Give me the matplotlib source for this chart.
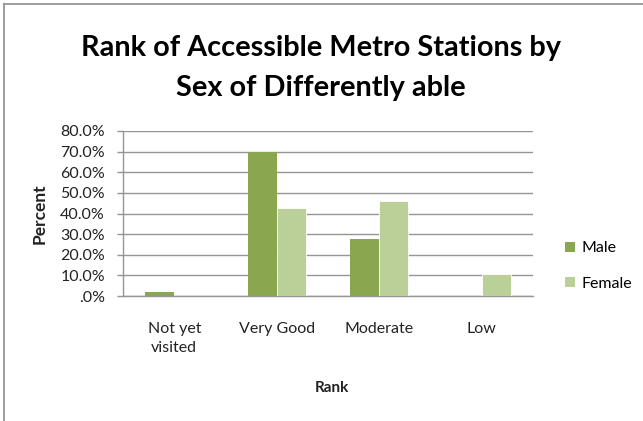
import matplotlib
matplotlib.use("Agg")
import matplotlib.pyplot as plt
from matplotlib.lines import Line2D
from matplotlib.patches import Patch
import numpy as np

categories = ["Not yet\nvisited", "Very Good", "Moderate", "Low"]
male = [2.1, 69.6, 27.8, 0.0]
female = [0.0, 42.8, 46.3, 10.5]
yticks = [0, 10, 20, 30, 40, 50, 60, 70, 80]
ytick_labels = [".0%", "10.0%", "20.0%", "30.0%", "40.0%", "50.0%", "60.0%", "70.0%", "80.0%"]

plt.rcParams['font.family'] = ['Lato', 'DejaVu Sans']

W, H = 643, 421
fig = plt.figure(figsize=(W / 100, H / 100), dpi=100)
ax = fig.add_axes([123 / W, 1 - 296 / H, (533 - 123) / W, (296 - 131) / H])

x = np.arange(len(categories))
bw = 0.285
c_male = "#8aa64f"
c_female = "#bbcf98"
ax.bar(x - bw / 2, male, width=bw, color=c_male, zorder=3)
ax.bar(x + bw / 2, female, width=bw, color=c_female, edgecolor="white", linewidth=0.6, zorder=3)

ax.set_xlim(-0.5, len(categories) - 0.5)
ax.set_ylim(0, 80)
ax.set_yticks(yticks)
ax.set_yticklabels(ytick_labels, fontsize=11.5, color="#222222")
ax.set_xticks(x)
ax.set_xticklabels(categories, fontsize=11.5, color="#222222", linespacing=1.45)
ax.tick_params(axis='x', length=0, pad=19)
ax.tick_params(axis='y', length=4, color="#959595", width=1, pad=9)
ax.yaxis.grid(True, color="#959595", linewidth=1, zorder=0)
for s in ["top", "right"]:
    ax.spines[s].set_visible(False)
for s in ["left", "bottom"]:
    ax.spines[s].set_color("#959595")
    ax.spines[s].set_linewidth(1)

fig.text(40 / W, 1 - 214 / H, "Percent", rotation=90, ha="center", va="center",
         fontsize=12.5, fontweight="bold", color="#222222")
fig.text(332 / W, 1 - 388 / H, "Rank", ha="center", va="center",
         fontsize=11, fontweight="bold", color="#222222")

fig.text(321 / W, 1 - 48 / H, "Rank of Accessible Metro Stations by", ha="center", va="center",
         fontsize=20.8, fontweight="bold", color="black")
fig.text(321 / W, 1 - 88 / H, "Sex of Differently able", ha="center", va="center",
         fontsize=20.8, fontweight="bold", color="black")

handles = [Patch(facecolor=c_male, label="Male"), Patch(facecolor=c_female, label="Female")]
fig.legend(handles=handles, loc="center left", bbox_to_anchor=(551 / W, 1 - 266 / H),
           frameon=False, fontsize=11.5, handlelength=0.6, handleheight=0.6,
           handletextpad=0.4, labelspacing=1.35)

# chart frame lines (top and left)
fig.add_artist(Line2D([4 / W, 4 / W], [0, 1 - 4 / H], color="#8c8c8c", linewidth=1.2))
fig.add_artist(Line2D([4 / W, 1], [1 - 4 / H, 1 - 4 / H], color="#8c8c8c", linewidth=1.2))

fig.savefig("out.png", dpi=100)
